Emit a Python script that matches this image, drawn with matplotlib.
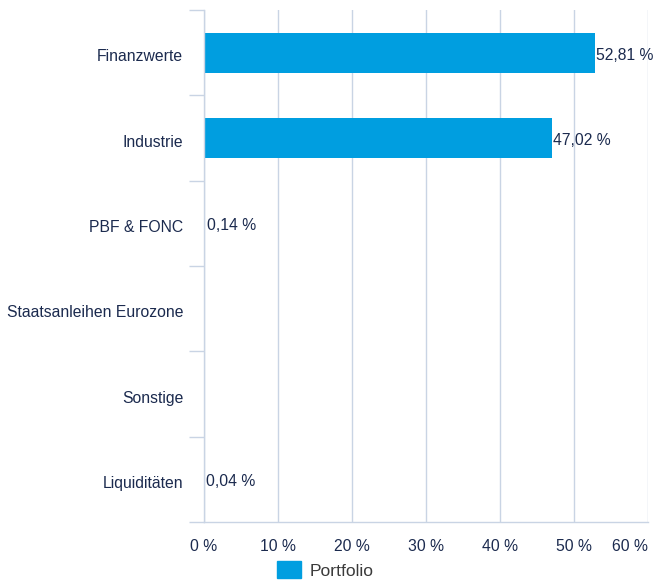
import numpy as np
import matplotlib.pyplot as plt
from matplotlib.patches import Patch

plt.rcParams['font.family'] = ['Liberation Sans', 'DejaVu Sans']

categories = ["Finanzwerte", "Industrie", "PBF & FONC",
              "Staatsanleihen Eurozone", "Sonstige", "Liquiditäten"]
values = [52.81, 47.02, 0.14, np.nan, np.nan, 0.04]
x_ticks = [0, 10, 20, 30, 40, 50, 60]

bar_color = "#009ee0"
text_color = "#1b2a4e"
grid_color = "#c9d4e4"

fig = plt.figure(figsize=(6.54, 5.8), dpi=100)
ax = fig.add_axes([204 / 654, 1 - 522 / 580, 444 / 654, 512 / 580])

y = np.arange(len(categories))
vals = np.nan_to_num(values)
ax.barh(y, vals, height=0.47, color=bar_color, zorder=3)

for yi, v in zip(y, values):
    if np.isnan(v):
        continue
    ax.text(v + 0.2, yi + 0.03, f"{v:.2f} %".replace(".", ","), va="center", ha="left",
            fontsize=11.3, color=text_color, zorder=4)

ax.set_xlim(0, 60)
ax.set_ylim(len(categories) - 0.5, -0.5)

ax.set_xticks(x_ticks)
ax.set_xticklabels([f"{t} %" for t in x_ticks])
ax.xaxis.grid(True, color=grid_color, linewidth=1.0, zorder=0)
ax.tick_params(axis="x", length=0, pad=12.5, labelsize=11.3, labelcolor=text_color)
xl = ax.get_xticklabels()
xl[-1].set_ha("right")

ax.set_yticks(y + 0.03)
ax.set_yticklabels(categories)
ax.set_yticks(np.arange(len(categories) + 1) - 0.5, minor=True)
ax.tick_params(axis="y", which="major", length=0, pad=15, labelsize=11.3, labelcolor=text_color)
ax.tick_params(axis="y", which="minor", length=10.5, width=1.0, color=grid_color)

for s in ["top", "right"]:
    ax.spines[s].set_visible(False)
for s in ["left", "bottom"]:
    ax.spines[s].set_color(grid_color)
    ax.spines[s].set_linewidth(1.0)
    ax.spines[s].set_zorder(5)

fig.legend(handles=[Patch(color=bar_color, label="Portfolio")], loc="center",
           bbox_to_anchor=(325 / 654, 1 - 570 / 580), frameon=False, fontsize=12.6,
           handlelength=1.4, handleheight=1.1, handletextpad=0.45, labelcolor="#3a3a3a")

fig.savefig("out.png", dpi=100)
